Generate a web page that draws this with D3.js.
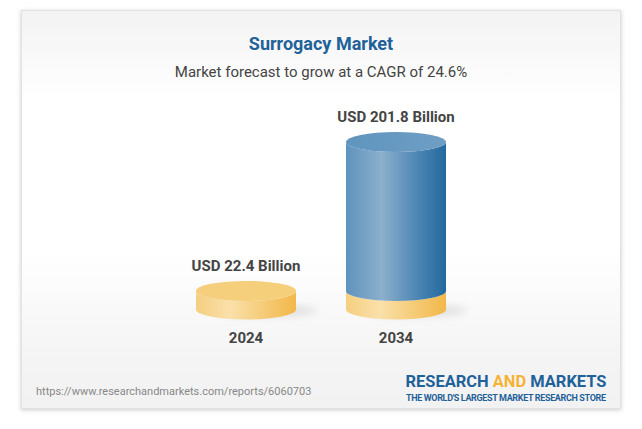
<!DOCTYPE html>
<html><head><meta charset="utf-8">
<script src="https://cdn.jsdelivr.net/npm/d3@7"></script>
<style>html,body{margin:0;padding:0;background:#fff}svg{display:block}text{font-family:Roboto,sans-serif}</style>
</head><body><div id="chart"></div>
<script>
const categories = ["2024","2034"];
const baseValues = [22.4, 22.4];
const totalValues = [22.4, 201.8];
const valueLabels = ["USD 22.4 Billion","USD 201.8 Billion"];
const titleText = "Surrogacy Market";
const subtitleText = "Market forecast to grow at a CAGR of 24.6%";
const sourceText = "https://www.researchandmarkets.com/reports/6060703";

const svg = d3.select("#chart").append("svg").attr("width",642).attr("height",429);
const defs = svg.append("defs");
function grad(id,stops,o){
  const g=defs.append("linearGradient").attr("id",id).attr("x1",o.x1).attr("y1",o.y1).attr("x2",o.x2).attr("y2",o.y2);
  stops.forEach(s=>g.append("stop").attr("offset",s[0]).attr("stop-color",s[1]));
}
const H={x1:0,y1:0,x2:1,y2:0}, V={x1:0,y1:0,x2:0,y2:1};
grad("card",[[0,"#f3f3f3"],[0.23,"#ffffff"],[0.6,"#ffffff"],[0.88,"#f4f4f4"],[1,"#f2f2f2"]],V);
grad("goldSide",[[0,"#f5cf80"],[0.34,"#fae0aa"],[0.7,"#f5ca74"],[1,"#f2b84a"]],H);
grad("blueSide",[[0,"#5f93bd"],[0.36,"#8cafcc"],[0.7,"#4f87b5"],[1,"#23699e"]],H);
grad("blueTop",[[0,"#5f95be"],[1,"#6f9ec4"]],H);
grad("goldTop",[[0,"#f6cf7e"],[1,"#f6cf7a"]],H);
const sb=defs.append("filter").attr("id","blur").attr("x","-30%").attr("y","-100%").attr("width","160%").attr("height","300%");
sb.append("feGaussianBlur").attr("stdDeviation",4);
const cs=defs.append("filter").attr("id","cardShadow").attr("x","-5%").attr("y","-5%").attr("width","110%").attr("height","110%");
cs.append("feDropShadow").attr("dx",0).attr("dy",1).attr("stdDeviation",2).attr("flood-color","#000").attr("flood-opacity",0.2);

svg.append("rect").attr("x",21.5).attr("y",10.5).attr("width",599).attr("height",398)
  .attr("fill","url(#card)").attr("stroke","#e2e2e2").attr("filter","url(#cardShadow)");

svg.append("text").attr("x",321).attr("y",50).attr("text-anchor","middle")
  .attr("font-size",18).attr("font-weight",700).attr("fill","#1f6199").text(titleText);
svg.append("text").attr("x",321).attr("y",77).attr("text-anchor","middle")
  .attr("font-size",15).attr("fill","#444").text(subtitleText);

const x = d3.scaleBand().domain(categories).range([171,471]).paddingInner(0).paddingOuter(0);
const y = d3.scaleLinear().domain([0,201.8]).range([309.5,142]);
const rx = 50, ry = 10;
const cx = c => x(c)+x.bandwidth()/2;

function side(cxv,y0,y1){
  return `M${cxv-rx},${y1}L${cxv-rx},${y0}A${rx},${ry} 0 0 0 ${cxv+rx},${y0}L${cxv+rx},${y1}A${rx},${ry} 0 0 1 ${cxv-rx},${y1}Z`;
}
categories.forEach((c,i)=>{
  const g=svg.append("g"), m=cx(c);
  g.append("ellipse").attr("cx",m+20).attr("cy",y(0)+1).attr("rx",rx+2).attr("ry",6)
    .attr("fill","#000").attr("opacity",0.1).attr("filter","url(#blur)");
  g.append("path").attr("d",side(m,y(0),y(baseValues[i]))).attr("fill","url(#goldSide)");
  if(totalValues[i]>baseValues[i]){
    g.append("path").attr("d",side(m,y(baseValues[i]),y(totalValues[i]))).attr("fill","url(#blueSide)");
    g.append("ellipse").attr("cx",m).attr("cy",y(totalValues[i])).attr("rx",rx).attr("ry",ry).attr("fill","url(#blueTop)");
  } else {
    g.append("ellipse").attr("cx",m).attr("cy",y(totalValues[i])).attr("rx",rx).attr("ry",ry).attr("fill","url(#goldTop)");
  }
  g.append("text").attr("x",m).attr("y",y(totalValues[i])-20).attr("text-anchor","middle")
    .attr("font-size",15).attr("font-weight",700).attr("fill","#444").text(valueLabels[i]);
  g.append("text").attr("x",m).attr("y",343).attr("text-anchor","middle")
    .attr("font-size",15).attr("font-weight",700).attr("fill","#444").text(c);
});

svg.append("text").attr("x",36).attr("y",395).attr("font-size",11).attr("fill","#888").text(sourceText);

const logo=svg.append("text").attr("x",405.5).attr("y",387).attr("font-size",16.5).attr("font-weight",700)
  .attr("fill","#1f6199").attr("textLength",201).attr("lengthAdjust","spacingAndGlyphs");
logo.append("tspan").text("RESEARCH ");
logo.append("tspan").attr("fill","#f5b335").text("AND");
logo.append("tspan").text(" MARKETS");
svg.append("text").attr("x",406).attr("y",400.5).attr("font-size",9).attr("font-weight",700)
  .attr("fill","#1f6199").attr("textLength",200).attr("lengthAdjust","spacing")
  .text("THE WORLD'S LARGEST MARKET RESEARCH STORE");
</script></body></html>
